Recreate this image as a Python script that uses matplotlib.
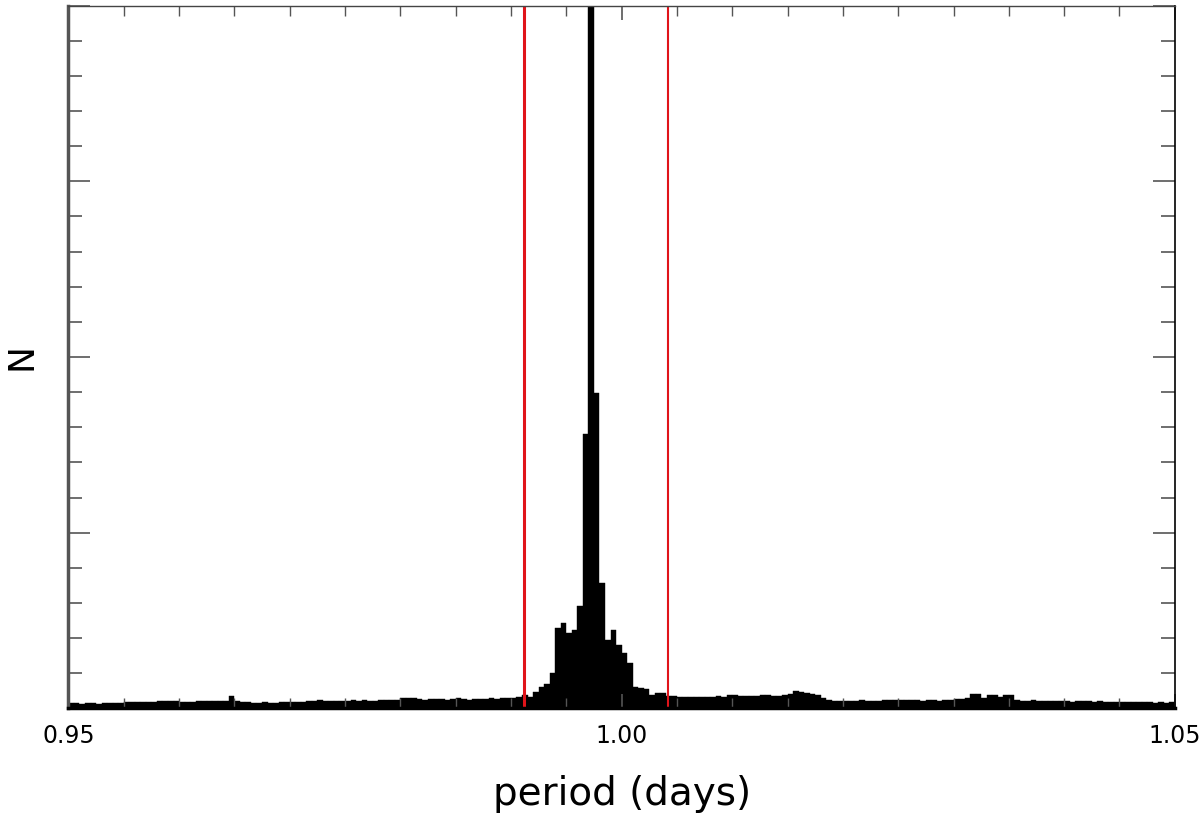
import numpy as np
import matplotlib
matplotlib.use("Agg")
from matplotlib import pyplot as plt
from matplotlib.ticker import MultipleLocator

# histogram bins of trial periods (days)
bin_start = 0.95
bin_width = 0.0005
counts = [
    30, 28, 27, 29, 28, 27, 30, 29, 31, 30, 33, 34,
    37, 36, 38, 35,
    43, 41, 44, 40,
    37, 38, 35, 40, 39,
    41, 39, 42, 40,
    68,
    40, 34, 33, 32, 31, 33, 30, 32, 34, 33,
    37, 36, 38,
    44, 42, 45, 41, 43, 44, 40, 42, 45, 43, 46, 42, 44, 45,
    47, 45, 48,
    61, 58, 60,
    52, 50, 55, 51, 53, 49, 52, 56, 54, 50, 53, 55, 52,
    57, 55, 58, 60, 59,
    66,
    74,
    63, 91, 120, 137, 200, 456, 485, 428, 445, 581, 1562, 9000, 1796, 713,
    388, 445, 359, 314, 257, 120, 114, 108, 74, 86, 86, 71, 70,
    65, 63, 66, 62, 64,
    67, 66, 68, 65,
    77, 75, 72,
    70, 72, 69, 74, 76,
    72, 70, 75, 80,
    97, 95,
    85, 82, 78,
    60,
    45, 43, 42, 44, 41, 43, 45, 42, 44, 43, 47,
    50, 48, 46, 49, 47,
    46, 44, 45, 47, 43, 46, 48, 52, 55, 58,
    82, 80,
    60,
    78, 76, 62,
    77, 75,
    48, 44, 43, 45, 42, 44, 43,
    40, 39, 41, 38, 40, 42, 39, 38, 40, 37,
    35, 34, 33, 35, 34, 36, 33, 34, 32, 35,
    30, 36,
]
# limits of the selected period window
window = [0.9912, 1.0042]
xticks = [0.95, 1.00, 1.05]

edges = bin_start + bin_width * np.arange(len(counts))

fig = plt.figure(figsize=(12, 8.16), dpi=100)
ax = fig.add_axes([0.057, 0.132, 0.922, 0.861])

ax.bar(edges, counts, width=bin_width, align="edge", color="black", edgecolor="black", linewidth=0.3)

# red window lines
ax.axvline(window[0], color="#e0141a", linewidth=2.2)
ax.axvline(window[1], color="#e0141a", linewidth=1.5)

ax.set_xlim(0.95, 1.05)
ax.set_ylim(0, 4000)

ax.set_xticks(xticks)
ax.set_xticklabels(["%.2f" % t for t in xticks])
ax.xaxis.set_minor_locator(MultipleLocator(0.005))
ax.yaxis.set_major_locator(MultipleLocator(1000))
ax.yaxis.set_minor_locator(MultipleLocator(200))
ax.set_yticklabels([])

ax.tick_params(axis="both", which="both", direction="in", top=True, right=True, color="#555555")
ax.tick_params(axis="y", which="major", length=16, width=1.2)
ax.tick_params(axis="y", which="minor", length=10, width=1.2)
ax.tick_params(axis="x", which="major", length=10, width=1.2, labelsize=17, pad=11)
ax.tick_params(axis="x", which="minor", length=7, width=1.0)

ax.spines["left"].set_color("#555555")
ax.spines["left"].set_linewidth(2.5)
ax.spines["top"].set_color("#444444")
ax.spines["top"].set_linewidth(1.0)
ax.spines["right"].set_color("black")
ax.spines["right"].set_linewidth(1.2)
ax.spines["bottom"].set_color("black")
ax.spines["bottom"].set_linewidth(2.5)

ax.set_xlabel("period (days)", fontsize=28, labelpad=20)
ax.set_ylabel("N", fontsize=26, labelpad=18)

fig.savefig("out.png", dpi=100)
